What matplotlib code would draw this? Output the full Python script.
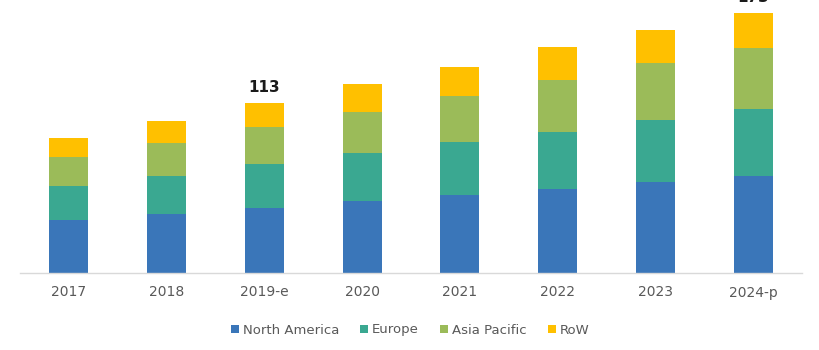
import matplotlib
matplotlib.use("Agg")
import matplotlib.pyplot as plt
import numpy as np

years = ["2017", "2018", "2019-e", "2020", "2021", "2022", "2023", "2024-p"]
north_america = [35.2, 39.2, 43.2, 47.9, 51.8, 55.8, 60.5, 64.5]
europe = [22.6, 25.3, 29.3, 31.9, 35.2, 37.9, 41.2, 44.5]
asia_pacific = [19.3, 21.9, 24.6, 27.3, 30.6, 34.6, 37.9, 40.5]
row = [12.6, 14.6, 16.0, 18.6, 19.3, 21.9, 21.9, 23.3]
# totals shown on top of selected bars
total_labels = {"2019-e": "113", "2024-p": "173"}

series = [
    ("North America", north_america, "#3A76B9"),
    ("Europe", europe, "#3AA891"),
    ("Asia Pacific", asia_pacific, "#9BBB59"),
    ("RoW", row, "#FFC000"),
]

fig = plt.figure(figsize=(8.2, 3.5), dpi=100)
ax = fig.add_axes([20 / 820, 77 / 350, 782 / 820, 273 / 350])

x = np.arange(len(years))
bottom = np.zeros(len(years))
handles = []
for name, vals, color in series:
    h = ax.bar(x, vals, width=0.4, bottom=bottom, color=color, label=name)
    handles.append(h)
    bottom += np.array(vals)

# the top label of the last bar runs past the figure edge, as in the source
for i, yr in enumerate(years):
    if yr in total_labels:
        ax.text(x[i], bottom[i] + 5.5, total_labels[yr], ha="center", va="bottom",
                fontsize=11, fontweight="bold", color="#1a1a1a", clip_on=False)

ax.set_xlim(-0.5, len(years) - 0.5)
ax.set_ylim(0, 181.5)
ax.set_xticks(x)
ax.set_xticklabels(years, fontsize=10, color="#595959")
ax.tick_params(axis="x", length=0, pad=9)
ax.set_yticks([])
for side in ["left", "right", "top"]:
    ax.spines[side].set_visible(False)
ax.spines["bottom"].set_color("#d9d9d9")
ax.spines["bottom"].set_linewidth(1.0)

fig.legend(handles=handles, labels=[s[0] for s in series], loc="center",
           bbox_to_anchor=(0.5, 20 / 350), ncol=4, frameon=False, fontsize=9.5,
           handlelength=0.6, handleheight=0.6, handletextpad=0.3, columnspacing=1.6,
           labelcolor="#595959")

fig.savefig("out.png", dpi=100)
plt.close(fig)
